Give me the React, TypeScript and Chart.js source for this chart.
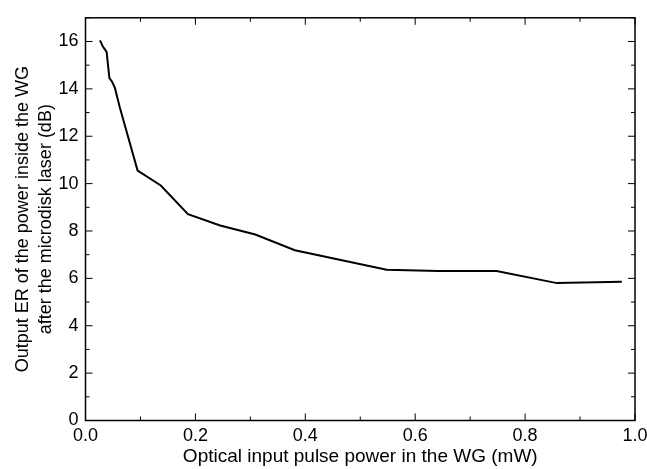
import React, { useEffect, useRef } from "react";
import { Chart, registerables } from "chart.js";

Chart.register(...registerables);

const powerMW = [0.0264, 0.0313, 0.0384, 0.0435, 0.0484, 0.0535, 0.0626, 0.0948, 0.137, 0.1865, 0.245, 0.309, 0.381, 0.548, 0.642, 0.748, 0.858, 0.976];
const erDB = [16.05, 15.8, 15.56, 14.45, 14.3, 14.04, 13.2, 10.55, 9.92, 8.71, 8.23, 7.85, 7.19, 6.36, 6.31, 6.31, 5.8, 5.86];
const xTitle = "Optical input pulse power in the WG (mW)";
const yTitle = ["Output ER of the power inside the WG", "after the microdisk laser (dB)"];

const FONT = "'Liberation Sans', Arial, sans-serif";

const framePlugin = {
  id: "frameTicks",
  afterDraw(chart: any) {
    const { ctx, chartArea: a, scales } = chart;
    ctx.save();
    ctx.strokeStyle = "#000";
    ctx.lineWidth = 1.5;
    ctx.strokeRect(a.left, a.top, a.right - a.left, a.bottom - a.top);
    ctx.lineWidth = 1;
    ctx.beginPath();
    for (const t of scales.x.ticks) {
      const v = Math.round(t.value * 10);
      const px = scales.x.getPixelForValue(t.value);
      const len = v % 2 === 0 ? 7 : 4;
      ctx.moveTo(px, a.bottom);
      ctx.lineTo(px, a.bottom - len);
      ctx.moveTo(px, a.top);
      ctx.lineTo(px, a.top + len);
    }
    for (const t of scales.y.ticks) {
      const v = Math.round(t.value);
      const py = scales.y.getPixelForValue(t.value);
      const len = v % 2 === 0 ? 7 : 4;
      ctx.moveTo(a.left, py);
      ctx.lineTo(a.left + len, py);
      ctx.moveTo(a.right, py);
      ctx.lineTo(a.right - len, py);
    }
    ctx.stroke();
    ctx.restore();
  },
};

export default function App() {
  const ref = useRef<HTMLCanvasElement>(null);
  useEffect(() => {
    document.body.style.margin = "0";
    const chart = new Chart(ref.current!, {
      type: "line",
      data: {
        datasets: [
          {
            data: powerMW.map((x, i) => ({ x, y: erDB[i] })),
            borderColor: "#000",
            borderWidth: 2,
            pointRadius: 0,
            tension: 0,
            fill: false,
          },
        ],
      },
      options: {
        animation: false,
        responsive: false,
        layout: { padding: { top: 9.5, right: 12, left: 0, bottom: 0 } },
        plugins: { legend: { display: false }, tooltip: { enabled: false } },
        scales: {
          x: {
            type: "linear",
            min: 0,
            max: 1,
            grid: { display: false, drawTicks: false },
            border: { display: false },
            ticks: {
              stepSize: 0.1,
              autoSkip: false,
              maxRotation: 0,
              padding: 5,
              color: "#000",
              font: { family: FONT, size: 18 },
              callback: (v: any) => (Math.round(v * 10) % 2 === 0 ? Number(v).toFixed(1) : ""),
            },
            title: { display: true, text: xTitle, color: "#000", font: { family: FONT, size: 19 }, padding: { top: 0, bottom: 1 } },
            afterFit: (s: any) => { s.height = 48.5; s.paddingRight = 0; s.paddingLeft = 0; },
          },
          y: {
            type: "linear",
            min: 0,
            max: 17,
            grid: { display: false, drawTicks: false },
            border: { display: false },
            ticks: {
              stepSize: 1,
              autoSkip: false,
              padding: 7,
              color: "#000",
              font: { family: FONT, size: 18 },
              callback: (v: any) => (Math.round(v) % 2 === 0 ? String(v) : ""),
            },
            title: { display: true, text: yTitle, color: "#000", font: { family: FONT, size: 18, lineHeight: 1.3 }, padding: { top: 11, bottom: 0 } },
            afterFit: (s: any) => { s.width = 85.5; },
          },
        },
      },
      plugins: [framePlugin],
    });
    return () => chart.destroy();
  }, []);
  return (
    <div style={{ width: 647, height: 469, background: "#fff" }}>
      <canvas ref={ref} width={647} height={469} />
    </div>
  );
}
